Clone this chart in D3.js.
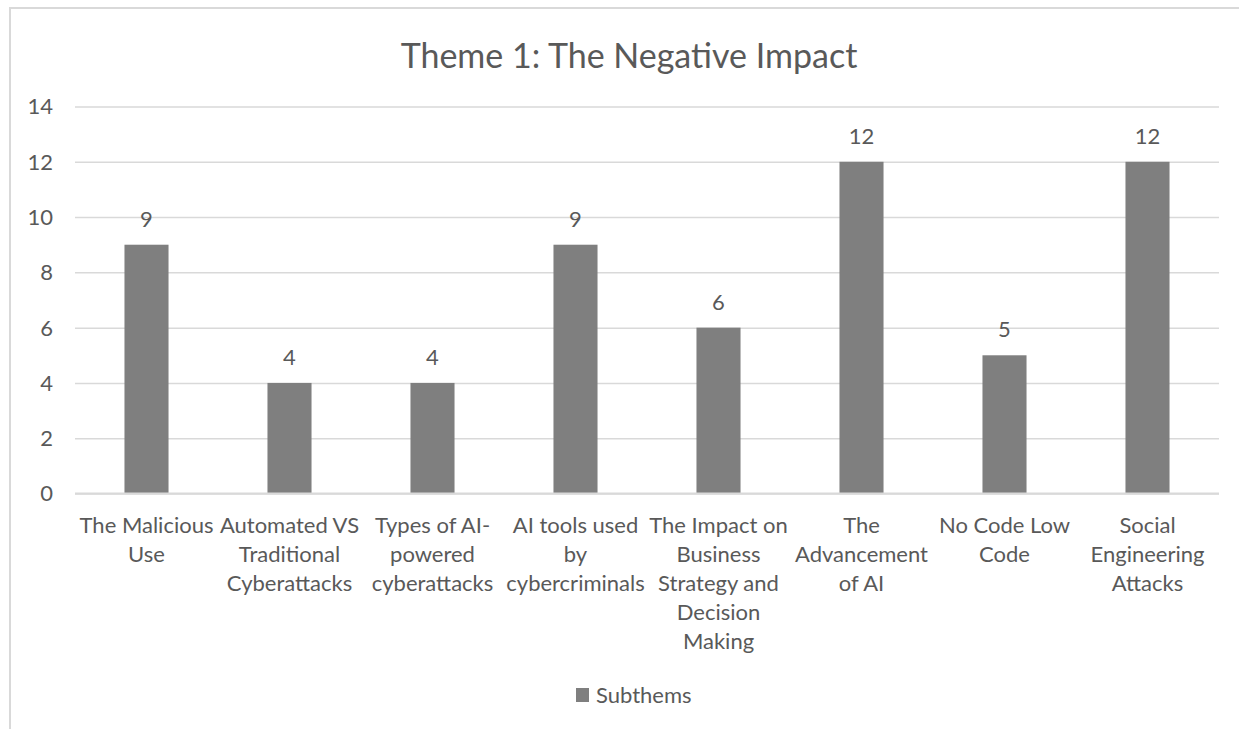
<!DOCTYPE html>
<html>
<head>
<meta charset="utf-8">
<script src="https://cdn.jsdelivr.net/npm/d3@7"></script>
<style>
  body { margin: 0; background: #fff; }
  svg text { font-family: Lato, "Liberation Sans", sans-serif; fill: #595959; }
</style>
</head>
<body>
<div id="chart"></div>
<script>
// chart data
var categories = [
  "The Malicious\nUse",
  "Automated VS\nTraditional\nCyberattacks",
  "Types of AI-\npowered\ncyberattacks",
  "AI tools used\nby\ncybercriminals",
  "The Impact on\nBusiness\nStrategy and\nDecision\nMaking",
  "The\nAdvancement\nof AI",
  "No Code Low\nCode",
  "Social\nEngineering\nAttacks"
];
var subthemes = [9, 4, 4, 9, 6, 12, 5, 12];
var yTicks = [0, 2, 4, 6, 8, 10, 12, 14];
var seriesName = "Subthems";
var chartTitle = "Theme 1: The Negative Impact";

var svgWidth = 1239;
var svgHeight = 729;

var margin = { top: 106.5, left: 75, right: 20 };
var width = 1219 - margin.left;
var height = 493.5 - margin.top;

var svg = d3.select("#chart")
  .append("svg")
  .attr("width", svgWidth)
  .attr("height", svgHeight);

// chart area border
svg.append("rect")
  .attr("x", 10)
  .attr("y", 8)
  .attr("width", svgWidth)
  .attr("height", svgHeight)
  .attr("fill", "none")
  .attr("stroke", "#d9d9d9")
  .attr("stroke-width", 2);

svg.append("text")
  .attr("x", 629)
  .attr("y", 68)
  .attr("text-anchor", "middle")
  .attr("font-size", "34px")
  .text(chartTitle);

var chartGroup = svg.append("g")
  .attr("transform", `translate(${margin.left}, ${margin.top})`);

var xBandScale = d3.scaleBand()
  .domain(categories)
  .range([0, width])
  .paddingInner(0.692)
  .paddingOuter(0.346);

var yLinearScale = d3.scaleLinear()
  .domain([0, 14])
  .range([height, 0]);

// y axis with gridlines
var leftAxis = d3.axisLeft(yLinearScale)
  .tickValues(yTicks)
  .tickSize(-width)
  .tickPadding(22);

var yAxis = chartGroup.append("g").call(leftAxis);
yAxis.select(".domain").remove();
yAxis.selectAll("line")
  .attr("stroke", "#d9d9d9")
  .attr("stroke-width", 1.5);
yAxis.selectAll("text")
  .attr("font-size", "22px")
  .attr("fill", "#595959")
  .attr("dy", "0.34em");

// bars
chartGroup.selectAll(".bar")
  .data(subthemes)
  .enter()
  .append("rect")
  .attr("class", "bar")
  .attr("x", (d, i) => xBandScale(categories[i]))
  .attr("y", d => yLinearScale(d))
  .attr("width", xBandScale.bandwidth())
  .attr("height", d => height - yLinearScale(d))
  .attr("fill", "#7f7f7f");

// data labels
chartGroup.selectAll(".valueLabel")
  .data(subthemes)
  .enter()
  .append("text")
  .attr("class", "valueLabel")
  .attr("x", (d, i) => xBandScale(categories[i]) + xBandScale.bandwidth() / 2)
  .attr("y", d => yLinearScale(d) - 18)
  .attr("text-anchor", "middle")
  .attr("font-size", "22px")
  .text(d => d);

// x axis line (same colour as gridlines)
chartGroup.append("line")
  .attr("x1", 0)
  .attr("x2", width)
  .attr("y1", height)
  .attr("y2", height)
  .attr("stroke", "#d9d9d9")
  .attr("stroke-width", 2);

// category labels, several lines each
var xLabels = chartGroup.selectAll(".catLabel")
  .data(categories)
  .enter()
  .append("text")
  .attr("class", "catLabel")
  .attr("text-anchor", "middle")
  .attr("font-size", "22px")
  .attr("transform", d => `translate(${xBandScale(d) + xBandScale.bandwidth() / 2}, ${height + 39})`);

xLabels.each(function(d) {
  var lines = d.split("\n");
  var t = d3.select(this);
  lines.forEach(function(line, j) {
    t.append("tspan")
      .attr("x", 0)
      .attr("y", j * 29)
      .text(line);
  });
});

// legend
var legend = svg.append("g")
  .attr("transform", "translate(576, 688)");

legend.append("rect")
  .attr("width", 13)
  .attr("height", 14)
  .attr("fill", "#7f7f7f");

legend.append("text")
  .attr("x", 20)
  .attr("y", 15)
  .attr("font-size", "22px")
  .text(seriesName);
</script>
</body>
</html>
